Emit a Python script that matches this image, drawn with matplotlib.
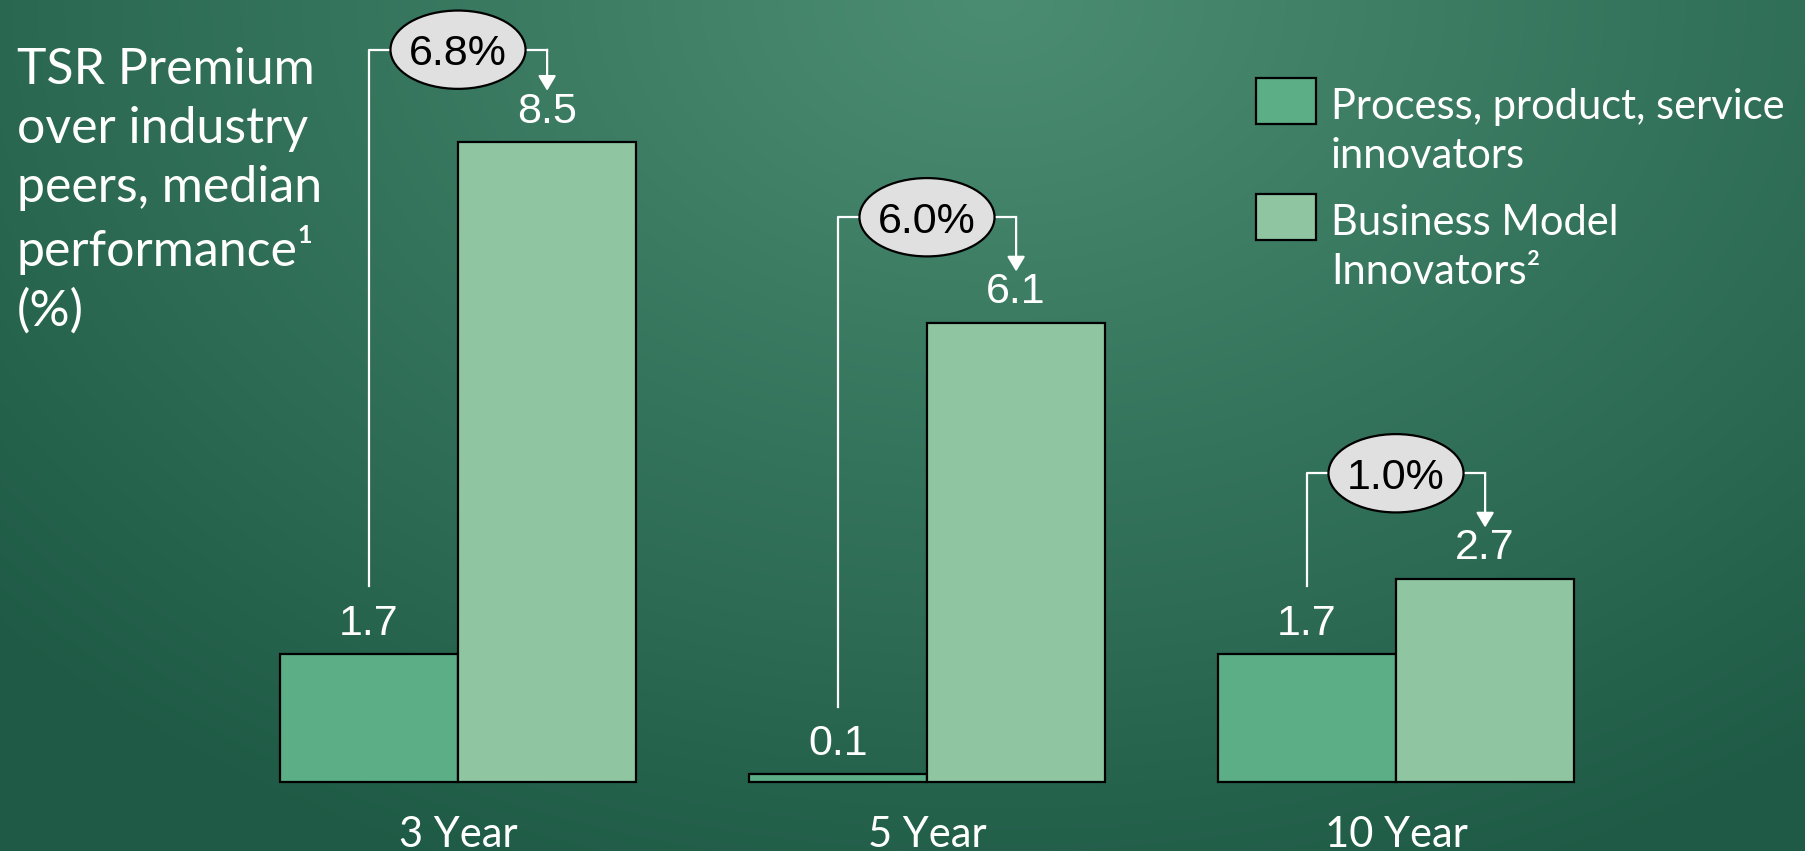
"""
TSR premium over industry peers: business-model vs process/product/service innovators
"""

import matplotlib.pyplot as plt
import numpy as np
from matplotlib.patches import Ellipse, Rectangle

plt.rcParams.update({
    'font.family': 'Lato',
    'figure.dpi': 100,
})

# data
periods = ['3 Year', '5 Year', '10 Year']
process_innov = [1.7, 0.1, 1.7]
business_innov = [8.5, 6.1, 2.7]
premium = ['6.8%', '6.0%', '1.0%']
series_names = ['Process, product, service\ninnovators', 'Business Model\nInnovators²']
title_text = 'TSR Premium\nover industry\npeers, median\nperformance¹\n(%)'

c_dark = '#5bae85'
c_light = '#8fc6a1'
W, H = 1806, 851

fig = plt.figure(figsize=(W / 100, H / 100), dpi=100)

# background gradient (lighter at top centre, darker towards edges)
bg = fig.add_axes([0, 0, 1, 1])
yy, xx = np.mgrid[0:H, 0:W]
r = np.sqrt(((xx - 0.55 * W) / (0.5 * W)) ** 2 + (yy / (0.75 * H)) ** 2)
f = np.clip(r / 1.5, 0, 1)[..., None]
light = np.array([75, 141, 114]) / 255
dark = np.array([30, 90, 69]) / 255
bg.imshow(light * (1 - f) + dark * f, aspect='auto', extent=(0, 1, 0, 1), origin='upper')
bg.axis('off')

ax = fig.add_axes([0, 0, 1, 1])
ax.patch.set_alpha(0)
ax.set_xlim(-458 / 469, (W - 458) / 469)
ymax = (H - 69) / 75.3
ax.set_ylim(-69 / 75.3, ymax)
ax.axis('off')

x = np.arange(len(periods))
w = 0.38
ax.bar(x - w / 2, process_innov, w, color=c_dark, edgecolor='black', linewidth=1.6, zorder=3)
ax.bar(x + w / 2, business_innov, w, color=c_light, edgecolor='black', linewidth=1.6, zorder=3)

num_font = dict(family='Liberation Sans', fontsize=31)
for i in range(len(periods)):
    xl, xr = x[i] - w / 2, x[i] + w / 2
    lv, rv = process_innov[i], business_innov[i]
    for xv, v in ((xl, lv), (xr, rv)):
        ax.annotate(f'{v}', (xv, v), xytext=(0, 14), textcoords='offset points',
                    ha='center', va='baseline', color='white', **num_font)

    # premium bubble with bracket + arrow
    yb = min(rv + 1.4, ymax - 0.66)
    ew, eh = 0.288, 1.04
    ax.plot([xl, xl, x[i] - ew / 2], [lv + 0.9, yb, yb], color='white', lw=1.6, zorder=4)
    ax.plot([x[i] + ew / 2, xr], [yb, yb], color='white', lw=1.6, zorder=4)
    ax.annotate('', xy=(xr, rv + 0.68), xytext=(xr, yb),
                arrowprops=dict(arrowstyle='-|>,head_length=0.45,head_width=0.27',
                                mutation_scale=20, color='white', lw=1.6,
                                shrinkA=0, shrinkB=0), zorder=4)
    ax.add_patch(Ellipse((x[i], yb), ew, eh, facecolor='#e0e0e0', edgecolor='black',
                         lw=1.6, zorder=5))
    ax.text(x[i], yb, premium[i], ha='center', va='center_baseline', color='black',
            zorder=6, **num_font)

    ax.annotate(periods[i], (x[i], 0), xytext=(0, -47), textcoords='offset points',
                ha='center', va='baseline', color='white', fontsize=30)

# left-hand title
fig.text(17 / W, 1 - 47 / H, title_text, ha='left', va='top', color='white',
         fontsize=36, linespacing=1.35)

# legend drawn by hand
leg_tops = [78, 194]
for top, name, col in zip(leg_tops, series_names, [c_dark, c_light]):
    fig.add_artist(Rectangle((1256 / W, 1 - (top + 46) / H), 60 / W, 46 / H,
                             transform=fig.transFigure, facecolor=col,
                             edgecolor='black', lw=1.6))
    fig.text(1331 / W, 1 - (top + 10) / H, name, ha='left', va='top',
             color='white', fontsize=30, linespacing=1.34)

fig.savefig('out.png', dpi=100)
print("Saved: out.png")
plt.close()
